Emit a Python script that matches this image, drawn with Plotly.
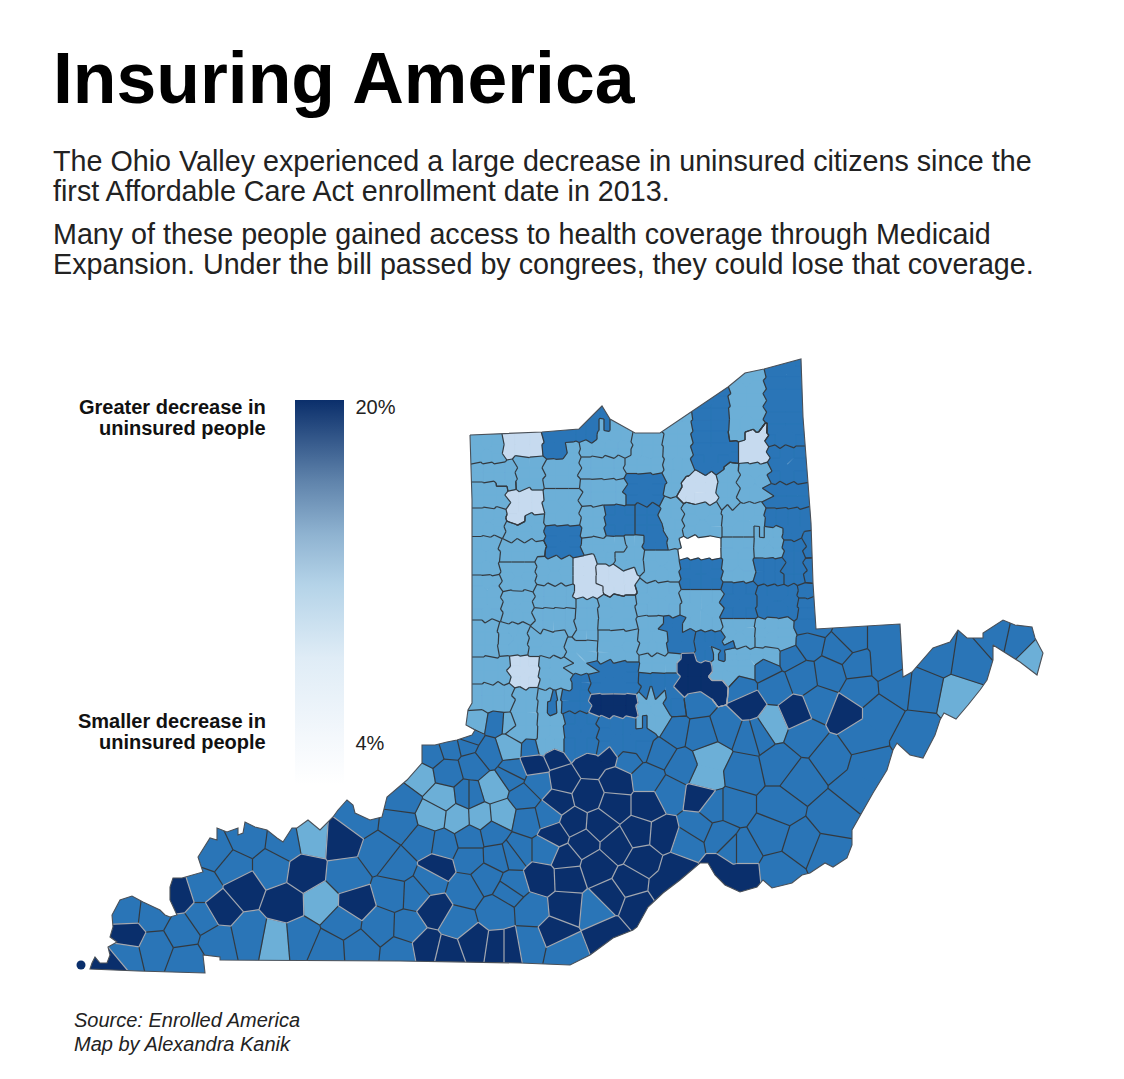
import plotly.graph_objects as go

# Insuring America - county map of the Ohio Valley
# no county boundary file available offline, so counties are given by what can be
# read off the picture and the cells are worked out as nearest-point regions,
# cut to the region outline.
# Ohio's counties are close to rectangles: (x0, y0, x1, y1), repeated for stepped ones
white_boxes = [(677, 537, 720, 559)]

pale_boxes = [
    (503, 433, 542, 456),
    (760, 425, 768, 433, 745, 431, 768, 441, 738, 441, 768, 463),
    (695, 473, 716, 503, 686, 482, 695, 503, 678, 490, 686, 503),
    (508, 490, 543, 515, 508, 515, 525, 522),
    (573, 557, 595, 585, 573, 585, 603, 598),
    (597, 565, 636, 585, 603, 585, 636, 595),
    (510, 656, 539, 687),
]

light_boxes = [
    (470, 435, 503, 463),
    (580, 441, 630, 457, 598, 420, 632, 441),
    (632, 433, 663, 457, 625, 457, 663, 473),
    (663, 410, 692, 470, 663, 470, 680, 496),
    (728, 369, 765, 431, 728, 431, 745, 441),
    (472, 463, 516, 482, 498, 482, 516, 489),
    (516, 457, 543, 490),
    (544, 463, 580, 488, 567, 443, 580, 463),
    (580, 457, 625, 479), (580, 479, 627, 505),
    (717, 470, 738, 510, 725, 465, 738, 470),
    (739, 463, 771, 500), (472, 482, 508, 508), (544, 489, 580, 525), (472, 508, 505, 536),
    (505, 522, 544, 541, 525, 516, 544, 522), (581, 507, 605, 538),
    (659, 497, 683, 520, 667, 520, 683, 548),
    (683, 503, 722, 537), (722, 505, 765, 537), (754, 527, 783, 558),
    (472, 537, 500, 575), (500, 541, 536, 562, 536, 541, 545, 556),
    (582, 537, 625, 552, 597, 552, 615, 563),
    (625, 535, 644, 572, 615, 552, 625, 570),
    (644, 550, 680, 582), (722, 537, 754, 582), (536, 557, 573, 585),
    (500, 562, 536, 591), (472, 575, 502, 620), (502, 591, 533, 623), (534, 585, 576, 608),
    (533, 608, 575, 633), (576, 598, 598, 640), (598, 595, 636, 630), (636, 582, 680, 615),
    (680, 590, 722, 630), (722, 617, 757, 647), (753, 618, 790, 647),
    (472, 620, 498, 657), (499, 623, 528, 655), (529, 628, 565, 657), (565, 641, 597, 674),
    (598, 630, 638, 663), (638, 617, 667, 655), (472, 657, 510, 684), (539, 657, 572, 690),
    (640, 653, 677, 673),
    (712, 648, 775, 660, 712, 660, 750, 672, 712, 672, 733, 680),
    (637, 692, 665, 727), (472, 684, 514, 707), (513, 688, 539, 737), (536, 689, 564, 750),
]

mid_boxes = [
    (543, 430, 566, 455, 566, 428, 596, 441, 590, 408, 610, 430),
    (692, 385, 730, 466, 700, 466, 723, 473, 730, 441, 738, 463),
    (765, 355, 806, 446), (768, 446, 806, 483), (765, 484, 808, 508),
    (765, 508, 811, 527, 783, 527, 800, 540),
    (625, 474, 665, 505), (545, 526, 581, 557), (605, 505, 635, 535),
    (635, 505, 659, 535, 644, 535, 667, 550),
    (783, 540, 805, 585), (805, 535, 812, 558), (805, 558, 813, 583),
    (680, 559, 722, 589), (754, 558, 785, 585), (722, 582, 757, 620), (757, 585, 798, 617),
    (798, 583, 813, 598), (798, 598, 817, 629),
    (660, 617, 685, 630, 668, 630, 695, 653),
    (695, 632, 725, 660, 725, 640, 732, 650),
    (549, 690, 590, 712, 572, 675, 590, 690),
    (589, 661, 638, 694),
    (639, 673, 677, 700, 665, 700, 677, 707),
    (564, 712, 598, 750), (598, 717, 648, 752),
]

dark_boxes = [
    (677, 663, 712, 690, 687, 653, 694, 663, 712, 680, 722, 690),
    (590, 694, 637, 717),
]

# everything else: centre point(s) x, y
light_counties = [
    (478, 718), (510, 722), (510, 746), (710, 757, 705, 777), (493, 788), (772, 723), (958, 697),
    (1032, 657), (420, 777), (442, 798), (433, 815), (458, 818), (480, 817), (502, 815),
    (312, 838), (322, 902), (276, 940),
]

mid_counties = [
    (697, 700), (740, 687), (673, 730), (702, 735), (727, 727),
    (658, 752), (750, 735), (496, 721), (533, 747), (628, 758), (488, 753), (473, 765),
    (467, 743), (512, 775), (538, 784), (525, 797), (470, 795), (647, 778), (670, 793),
    (597, 910), (532, 910), (563, 950), (530, 943), (547, 850), (510, 890), (517, 850),
    (527, 820), (548, 815), (683, 767), (713, 807), (697, 827), (720, 837), (687, 843),
    (733, 850), (807, 643), (850, 640), (840, 650), (885, 640, 885, 663), (790, 655),
    (830, 673), (857, 665), (860, 690), (897, 687), (802, 677), (775, 687), (765, 667),
    (820, 703), (805, 735), (757, 733), (880, 713, 860, 737), (832, 757), (780, 765),
    (800, 780), (743, 773), (867, 767, 857, 787), (833, 817), (780, 807), (733, 807),
    (770, 833), (802, 843), (827, 853), (740, 850), (780, 873), (923, 690), (937, 655),
    (970, 660), (918, 733), (995, 638), (1018, 643), (432, 753), (450, 747), (468, 740),
    (448, 772), (468, 795), (513, 773), (403, 800), (400, 823), (423, 842), (443, 845),
    (470, 838), (493, 833), (470, 858), (497, 857), (487, 877), (465, 890), (513, 853),
    (497, 912), (512, 887), (430, 880), (415, 893), (408, 928), (457, 923), (400, 952),
    (380, 927), (360, 948), (328, 950), (343, 922), (300, 938), (393, 892), (347, 877),
    (380, 853), (398, 867), (358, 818), (285, 843), (215, 853), (247, 838), (272, 868),
    (233, 868), (203, 887), (203, 918), (127, 912), (152, 915), (125, 955), (155, 948),
    (183, 932), (187, 960), (217, 942), (250, 935),
]

dark_counties = [
    (748, 705), (795, 713), (845, 713), (535, 764), (555, 755),
    (590, 763, 608, 753), (563, 780), (617, 782), (588, 795), (615, 805), (558, 802),
    (573, 823), (600, 825), (647, 805), (638, 833), (663, 835), (617, 845), (583, 843),
    (555, 835), (565, 858), (643, 860), (597, 867), (567, 877), (677, 870, 667, 887),
    (630, 883), (610, 897), (637, 907), (542, 878), (565, 907), (555, 933), (607, 933),
    (508, 947), (700, 797), (720, 870, 740, 877), (437, 867), (435, 910), (427, 947),
    (448, 952), (473, 943), (500, 947), (355, 903), (342, 840), (305, 873), (285, 903),
    (243, 888), (178, 895), (220, 908), (128, 935), (113, 965),
]

bin_colors = ["#ffffff", "#c6daef", "#6cafd7", "#2a75b7", "#0a2f6c"]

# Fulton county's detached bit in the river
island_x = [81]
island_y = [965]

outline_x = [
    470, 542, 579, 602, 610, 635, 660, 691, 728, 745, 764, 801, 803, 808, 811, 813, 816, 900,
    903, 912, 920, 933, 950, 958, 967, 983, 983, 1003, 1015, 1032, 1035, 1043, 1037, 1020, 993,
    993, 987, 980, 968, 956, 944, 940, 935, 923, 910, 897, 893, 887, 873, 863, 852, 852, 847,
    833, 825, 810, 802, 792, 772, 763, 757, 740, 725, 715, 708, 700, 680, 663, 648, 637, 633,
    613, 590, 570, 520, 400, 220, 220, 203, 205, 167, 138, 90, 92, 95, 100, 107, 110, 108, 117,
    110, 113, 112, 120, 132, 143, 160, 165, 170, 177, 170, 170, 173, 182, 203, 198, 210, 217,
    217, 227, 238, 238, 243, 245, 255, 267, 277, 283, 292, 297, 308, 320, 333, 338, 347, 353,
    355, 370, 382, 387, 407, 422, 422, 435, 447, 457, 472, 475, 466, 468, 472, 472,
]
outline_y = [
    435, 432, 429, 406, 419, 433, 433, 412, 387, 373, 369, 359, 417, 483, 523, 583, 629, 624,
    677, 672, 663, 648, 642, 630, 638, 638, 633, 620, 625, 627, 638, 653, 675, 662, 645,
    660, 680, 690, 705, 719, 713, 720, 735, 758, 755, 743, 750, 770, 793, 810, 830, 845, 858,
    867, 863, 873, 875, 883, 888, 880, 887, 892, 885, 875, 863, 863, 880, 893, 907, 927, 930,
    938, 955, 965, 963, 961, 960, 957, 955, 973, 972, 971, 969, 963, 957, 963, 963, 955, 947, 942,
    937, 927, 915, 900, 896, 902, 910, 915, 917, 915, 900, 887, 878, 878, 872, 857, 838, 840,
    828, 832, 828, 835, 833, 822, 827, 830, 838, 842, 828, 828, 820, 830, 817, 810, 800, 805,
    813, 820, 817, 797, 780, 763, 745, 745, 742, 740, 735, 730, 725, 710, 703, 500,
]

legend_ticks = [20, 4]
legend_labels = ["20%", "4%"]
legend_min = 2
legend_max = 20.33

BG = "#ffffff"
INK = "#111111"
FONT = "Liberation Sans"


# points just inside the edge of a box, so neighbouring boxes split along that edge
def box_points(x0, y0, x1, y1, inset=5, step=12):
    ix = min(inset, (x1 - x0) / 2)
    iy = min(inset, (y1 - y0) / 2)
    x0, x1, y0, y1 = x0 + ix, x1 - ix, y0 + iy, y1 - iy
    nx = max(1, round((x1 - x0) / step))
    ny = max(1, round((y1 - y0) / step))
    pts = []
    for k in range(nx + 1):
        x = x0 + (x1 - x0) * k / nx
        pts += [(x, y0), (x, y1)]
    for k in range(1, ny):
        y = y0 + (y1 - y0) * k / ny
        pts += [(x0, y), (x1, y)]
    return pts


# cut a convex cell by the line half way between two points
def cut_cell(cell, sx, sy, ox, oy, other):
    nx, ny = ox - sx, oy - sy
    mx, my = (sx + ox) / 2, (sy + oy) / 2
    out = []
    for k in range(len(cell)):
        a = cell[k]
        b = cell[(k + 1) % len(cell)]
        fa = (a[0] - mx) * nx + (a[1] - my) * ny
        fb = (b[0] - mx) * nx + (b[1] - my) * ny
        if fa <= 0:
            out.append(a)
        if (fa <= 0) != (fb <= 0):
            t = fa / (fa - fb)
            px, py = a[0] + t * (b[0] - a[0]), a[1] + t * (b[1] - a[1])
            out.append((px, py, other if fa <= 0 else a[2]))
    return out


# flatten everything into one list of points: x, y, bin, county id
sites = []
for b, boxes in enumerate([white_boxes, pale_boxes, light_boxes, mid_boxes, dark_boxes]):
    for c, county in enumerate(boxes):
        for n in range(0, len(county), 4):
            for x, y in box_points(*county[n:n + 4]):
                sites.append((x, y, b, ("box", b, c)))
for b, counties in [(2, light_counties), (3, mid_counties), (4, dark_counties)]:
    for c, county in enumerate(counties):
        for n in range(0, len(county), 2):
            sites.append((county[n], county[n + 1], b, ("pt", b, c)))

cells = []
for i, s in enumerate(sites):
    cell = [(40, 340, -1), (1070, 340, -1), (1070, 990, -1), (40, 990, -1)]
    for j, o in enumerate(sites):
        if i != j and abs(s[0] - o[0]) < 140 and abs(s[1] - o[1]) < 140:
            cell = cut_cell(cell, s[0], s[1], o[0], o[1], j)
    cells.append(cell)

fig = go.Figure()

# fills, one trace per bin
for b, color in enumerate(bin_colors):
    xs, ys = [], []
    for cell, s in zip(cells, sites):
        if s[2] == b and cell:
            xs += [p[0] for p in cell] + [cell[0][0], None]
            ys += [p[1] for p in cell] + [cell[0][1], None]
    fig.add_trace(go.Scatter(x=xs, y=ys, mode="lines", fill="toself", fillcolor=color,
                             line=dict(color=color, width=0.6), hoverinfo="skip"))

# county borders: only between different counties, grey around the darkest bin
plain_x, plain_y, grey_x, grey_y = [], [], [], []
for i, cell in enumerate(cells):
    for k, p in enumerate(cell):
        j = p[2]
        if j > i and sites[j][3] != sites[i][3]:
            q = cell[(k + 1) % len(cell)]
            if sites[i][2] == 4 or sites[j][2] == 4:
                grey_x += [p[0], q[0], None]
                grey_y += [p[1], q[1], None]
            else:
                plain_x += [p[0], q[0], None]
                plain_y += [p[1], q[1], None]
fig.add_trace(go.Scatter(x=plain_x, y=plain_y, mode="lines", line=dict(color="#33393f", width=1.2), hoverinfo="skip"))
fig.add_trace(go.Scatter(x=grey_x, y=grey_y, mode="lines", line=dict(color="#a3a8b0", width=1.2), hoverinfo="skip"))

# white sheet with a hole in the shape of the region hides everything outside it
area = sum(outline_x[k] * outline_y[(k + 1) % len(outline_x)] - outline_x[(k + 1) % len(outline_x)] * outline_y[k]
           for k in range(len(outline_x)))
sheet_x = [-10, -10, 1134, 1134, -10]
sheet_y = [300, 1090, 1090, 300, 300]
if area < 0:
    sheet_x, sheet_y = sheet_x[::-1], sheet_y[::-1]
fig.add_trace(go.Scatter(x=sheet_x + outline_x + outline_x[:1] + sheet_x[:1],
                         y=sheet_y + outline_y + outline_y[:1] + sheet_y[:1],
                         mode="lines", fill="toself", fillcolor=BG, line=dict(width=0), hoverinfo="skip"))
fig.add_trace(go.Scatter(x=outline_x + outline_x[:1], y=outline_y + outline_y[:1], mode="lines",
                         line=dict(color="#4a5058", width=1.1), hoverinfo="skip"))
fig.add_trace(go.Scatter(x=island_x, y=island_y, mode="markers",
                         marker=dict(color=bin_colors[4], size=9), hoverinfo="skip"))

# legend ramp
fig.add_trace(go.Scatter(
    x=[-50, -50], y=[-50, -50], mode="markers", hoverinfo="skip",
    marker=dict(
        color=legend_ticks, cmin=legend_min, cmax=legend_max, size=1, showscale=True,
        colorscale=[[0, "#ffffff"], [0.12, "#f4f8fc"], [0.33, "#dfecf6"], [0.52, "#b4d3e8"],
                    [0.65, "#8fb3d1"], [0.79, "#5f83ab"], [1, "#0b2f6b"]],
        colorbar=dict(
            x=295 / 1124, xanchor="left", xpad=0, y=1 - 400 / 1079, yanchor="top", ypad=0,
            thickness=49, thicknessmode="pixels", len=385, lenmode="pixels",
            outlinewidth=0, borderwidth=0, ticks="outside", ticklen=8, tickcolor="rgba(0,0,0,0)",
            tickvals=legend_ticks, ticktext=legend_labels,
            tickfont=dict(family=FONT, size=20, color="#222222"),
        ),
    ),
))


def add_text(x, y, text, size, color=INK, anchor="left"):
    fig.add_annotation(x=x / 1124, y=1 - y / 1079, xref="paper", yref="paper", text=text, showarrow=False,
                       xanchor=anchor, yanchor="middle", font=dict(family=FONT, size=size, color=color))


add_text(51, 78, "<b>Insuring America</b>", 71.5, "#000000")
add_text(51, 161, "The Ohio Valley experienced a large decrease in uninsured citizens since the", 28.7, "#222222")
add_text(51, 191, "first Affordable Care Act enrollment date in 2013.", 28.7, "#222222")
add_text(51, 234, "Many of these people gained access to health coverage through Medicaid", 28.7, "#222222")
add_text(51, 264, "Expansion. Under the bill passed by congrees, they could lose that coverage.", 28.7, "#222222")
add_text(268, 407, "<b>Greater decrease in</b>", 20, anchor="right")
add_text(268, 428, "<b>uninsured people</b>", 20, anchor="right")
add_text(268, 721, "<b>Smaller decrease in</b>", 20, anchor="right")
add_text(268, 742, "<b>uninsured people</b>", 20, anchor="right")
add_text(72, 1020, "<i>Source: Enrolled America</i>", 20, "#222222")
add_text(72, 1044, "<i>Map by Alexandra Kanik</i>", 20, "#222222")

fig.update_layout(
    width=1124, height=1079, margin=dict(l=0, r=0, t=0, b=0),
    paper_bgcolor=BG, plot_bgcolor=BG, showlegend=False, hovermode=False,
    xaxis=dict(range=[0, 1124], visible=False, fixedrange=True),
    yaxis=dict(range=[1079, 0], visible=False, fixedrange=True),
)

fig.write_html("out.html", config=dict(displayModeBar=False), post_script="document.body.style.margin='0';")
